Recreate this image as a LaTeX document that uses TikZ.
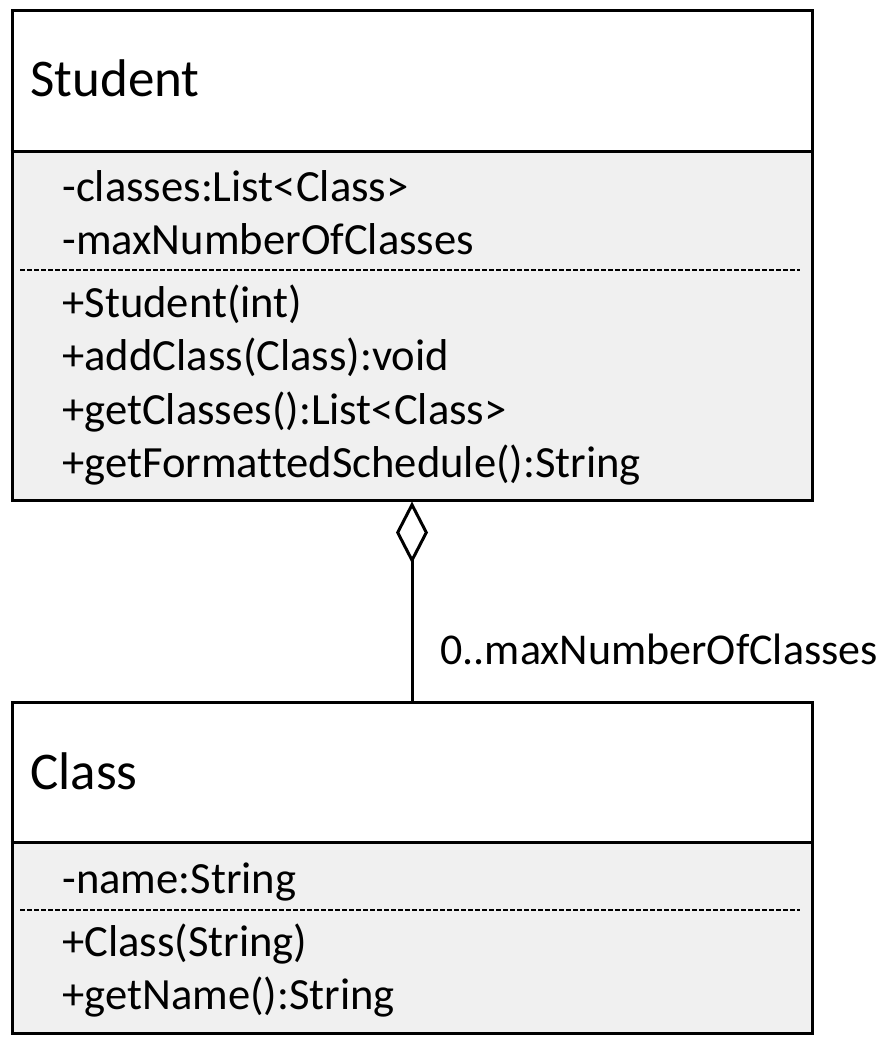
\documentclass[tikz,border=0pt]{standalone}
\usepackage{fontspec}
\setmainfont[Ligatures=NoCommon]{Carlito}
\usetikzlibrary{arrows.meta}
\definecolor{compgray}{HTML}{F0F0F0}
\begin{document}
\begin{tikzpicture}[x=0.5pt,y=-0.5pt,
  umlbox/.style={draw,line width=1.5pt,minimum width=400pt,inner sep=0pt},
  umltitle/.style={anchor=base west,inner sep=0pt,font=\fontsize{26.5pt}{32pt}\selectfont},
  umlentry/.style={anchor=base west,inner sep=0pt,font=\fontsize{22.3pt}{26pt}\selectfont},
  sepline/.style={line width=1.4pt,dash pattern=on 2.5pt off 1pt}]
  \fill[white] (0,0) rectangle (879,1042);
  \useasboundingbox (0,0) rectangle (879,1042);
  \fill[compgray] (12,152) rectangle (812,500);
  \fill[compgray] (12,842) rectangle (812,1033);
  \node[umlbox,minimum height=244.5pt] (student) at (412,255.5) {};
  \node[umlbox,minimum height=165.5pt] (class) at (412,867.5) {};
  \draw[line width=1.5pt] (student.west |- 0,152) -- (student.east |- 0,152);
  \draw[line width=1.5pt] (class.west |- 0,842) -- (class.east |- 0,842);
  \draw[sepline] (20,270) -- (800,270);
  \draw[sepline] (20,910) -- (800,910);
  \node[umltitle] (studentname) at (30,97) {Student};
  \node[umltitle] (classname) at (30,789) {Class};
  \foreach \txt/\yy [count=\i] in {-classes:List<Class>/202,-maxNumberOfClasses/255,
      +Student(int)/318,+addClass(Class):void/371,
      +getClasses():List<Class>/424,+getFormattedSchedule():String/477} {
    \node[umlentry] (studentrow\i) at (62,\yy) {\txt};
  }
  \foreach \txt/\yy [count=\i] in {-name:String/893,+Class(String)/956,+getName():String/1009} {
    \node[umlentry] (classrow\i) at (62,\yy) {\txt};
  }
  \draw[line width=1.5pt,-{Diamond[open,length=31pt,width=16pt]}] (class.north) -- (student.south)
    node[pos=0.18,anchor=base west,inner sep=0pt,xshift=13.5pt,font=\fontsize{22pt}{26pt}\selectfont] (mult) {0..maxNumberOfClasses};
\end{tikzpicture}
\end{document}
